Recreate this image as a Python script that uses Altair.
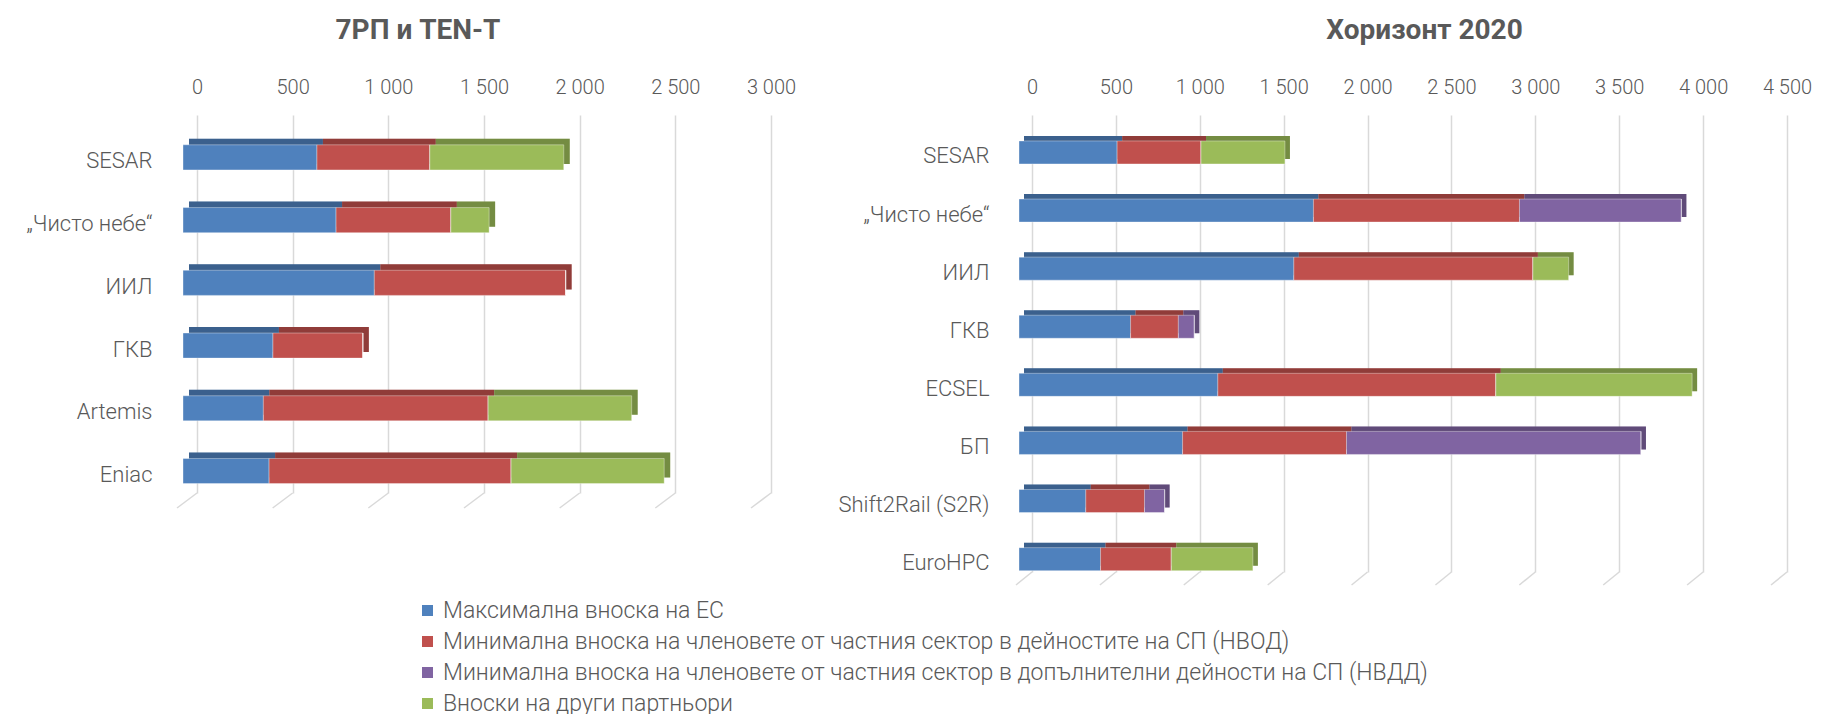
import altair as alt
import pandas as pd

SERIES = [
    "Максимална вноска на ЕС",
    "Минимална вноска на членовете от частния сектор в дейностите на СП (НВОД)",
    "Минимална вноска на членовете от частния сектор в допълнителни дейности на СП (НВДД)",
    "Вноски на други партньори",
]
COLORS = ["#4F81BD", "#C0504D", "#8064A2", "#9BBB59"]

# 7РП и TEN-T
left_title = "7РП и TEN-T"
left_cats = ["SESAR", "„Чисто небе“", "ИИЛ", "ГКВ", "Artemis", "Eniac"]
left_eu = [700, 800, 1000, 470, 420, 450]
left_nvod = [590, 600, 1000, 470, 1175, 1265]
left_nvdd = [0, 0, 0, 0, 0, 0]
left_other = [700, 200, 0, 0, 750, 800]
left_ticks = [0, 500, 1000, 1500, 2000, 2500, 3000]

# Хоризонт 2020
right_title = "Хоризонт 2020"
right_cats = ["SESAR", "„Чисто небе“", "ИИЛ", "ГКВ", "ECSEL", "БП",
              "Shift2Rail (S2R)", "EuroHPC"]
right_eu = [585, 1755, 1638, 665, 1185, 975, 398, 486]
right_nvod = [500, 1228, 1425, 285, 1657, 977, 350, 422]
right_nvdd = [0, 965, 0, 95, 0, 1755, 120, 0]
right_other = [500, 0, 213, 0, 1170, 0, 0, 486]
right_ticks = [0, 500, 1000, 1500, 2000, 2500, 3000, 3500, 4000, 4500]

FONT = "Roboto"
GREY = "#595959"
GRID = "#D9D9D9"


def long_table(cats, cols):
    rows = []
    for ci, c in enumerate(cats):
        for si, (s, vals) in enumerate(zip(SERIES, cols)):
            rows.append({"cat": c, "series": s, "idx": si, "value": vals[ci]})
    return pd.DataFrame(rows)


legend = alt.Legend(
    title=None, orient="none", legendX=219, legendY=484, direction="vertical",
    symbolType="square", symbolSize=121, symbolStrokeWidth=0,
    labelFontSize=23, labelFont=FONT, labelFontWeight=300, labelColor=GREY,
    rowPadding=7, labelLimit=1400, padding=0, labelOffset=4,
)
color_scale = alt.Scale(domain=SERIES, range=COLORS)


def panel(df, cats, ticks, xmax, width, height, pin, pout, align, xoff, depth,
          slant, title, title_dx, lab_pad):
    x_scale = alt.Scale(domain=[0, xmax], nice=False)
    x_axis = alt.Axis(
        orient="top", values=ticks, title=None, domain=False, ticks=False,
        grid=True, gridColor=GRID, gridWidth=1.5, labelPadding=17.5,
        labelFlush=False, labelFontSize=20, labelFont=FONT,
        labelFontWeight=300, labelColor=GREY,
        labelExpr="replace(format(datum.value, ',d'), ',', ' ')",
    )
    y_enc = alt.Y(
        "cat:N", sort=cats,
        scale=alt.Scale(paddingInner=pin, paddingOuter=pout, align=align),
        axis=alt.Axis(title=None, domain=False, ticks=False, grid=False,
                      labelPadding=lab_pad, labelFontSize=22, labelFont=FONT,
                      labelFontWeight=300, labelColor=GREY, labelOffset=4,
                      labelLimit=400),
    )
    x_enc = alt.X("value:Q", stack="zero", scale=x_scale, axis=x_axis)

    grid_df = pd.DataFrame({"t": ticks})
    slants = alt.Chart(grid_df).mark_rule(
        color=GRID, strokeWidth=1.5, x2Offset=-slant[0]
    ).encode(
        x=alt.X("t:Q", scale=x_scale, axis=x_axis),
        x2="t:Q",
        y=alt.value(height),
        y2=alt.value(height + slant[1]),
    )

    base = alt.Chart(df)
    back = base.mark_bar(
        xOffset=xoff + depth, x2Offset=xoff + depth, yOffset=-depth
    ).encode(
        x=x_enc, y=y_enc,
        color=alt.Color("series:N", scale=color_scale, legend=legend),
        order=alt.Order("idx:Q"),
    )
    shade = base.mark_bar(
        xOffset=xoff + depth, x2Offset=xoff + depth, yOffset=-depth,
        color="#000000", opacity=0.25
    ).encode(
        x=x_enc, y=y_enc,
        detail="series:N",
        order=alt.Order("idx:Q"),
    )
    front = base.mark_bar(
        xOffset=xoff, x2Offset=xoff, stroke="#FFFFFF", strokeWidth=0.6,
        strokeOpacity=0.6
    ).encode(
        x=x_enc, y=y_enc,
        color=alt.Color("series:N", scale=color_scale, legend=legend),
        order=alt.Order("idx:Q"),
    )
    return alt.layer(slants, back, shade, front).properties(
        width=width, height=height,
        title=alt.TitleParams(
            title, fontSize=28, font=FONT, fontWeight="bold", color=GREY,
            anchor="middle", frame="group", dx=title_dx, offset=32.5,
        ),
    )


left_df = long_table(left_cats, [left_eu, left_nvod, left_nvdd, left_other])
right_df = long_table(right_cats, [right_eu, right_nvod, right_nvdd, right_other])

left = panel(left_df, left_cats, left_ticks, 3000, 574, 378,
             0.6, 0.3127, 0.76, -14, 6, (20, 15), left_title, -66, 45)
right = panel(right_df, right_cats, right_ticks, 4500, 755, 457,
              0.604, 0.235, 0.95, -13, 5, (16, 13), right_title, 15, 43)

chart = alt.hconcat(left, right, spacing=261, bounds="flush").properties(
    padding={"left": 17, "top": 9, "right": 5, "bottom": 5}
).configure_view(stroke=None)

chart.save("out.html", embed_options={"renderer": "svg", "actions": False})
